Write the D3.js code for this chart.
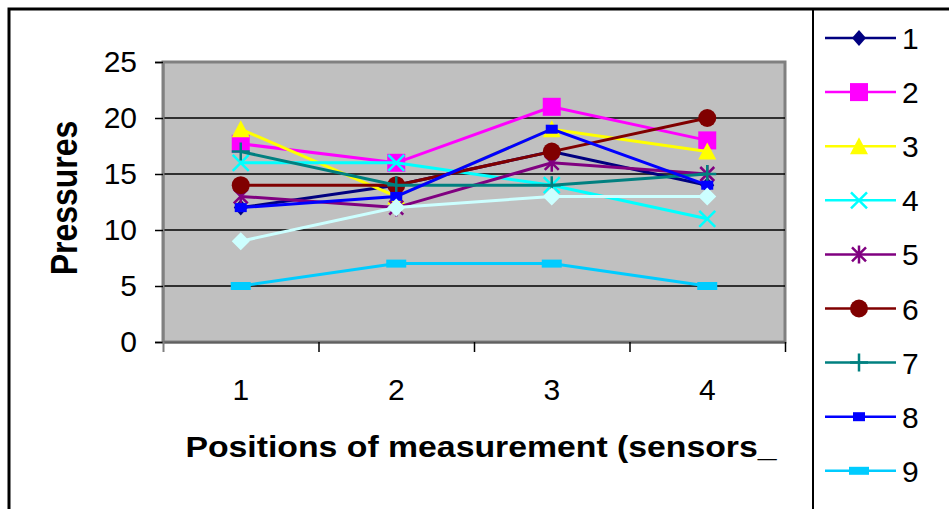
<!DOCTYPE html>
<html>
<head>
<meta charset="utf-8">
<script src="https://d3js.org/d3.v7.min.js"></script>
<style>
  body { margin: 0; background: #fff; }
  svg { display: block; }
  text { font-family: "Liberation Sans", Arial, sans-serif; fill: #000; }
</style>
</head>
<body>
<svg id="chart" width="949" height="509"></svg>
<script>
// categories (sensor positions) and series values
const categories = ["1", "2", "3", "4"];
const seriesNames = ["1", "2", "3", "4", "5", "6", "7", "8", "9", "10"];
const s1 = [12, 14, 17, 14];
const s2 = [17.7, 16, 21, 18];
const s3 = [19, 13, 19, 17];
const s4 = [16, 16, 14, 11];
const s5 = [13, 12, 16, 15];
const s6 = [14, 14, 17, 20];
const s7 = [17, 14, 14, 15];
const s8 = [12, 13, 19, 14];
const s9 = [5, 7, 7, 5];
const s10 = [9, 12, 13, 13];
const yTicks = [0, 5, 10, 15, 20, 25];

const allValues = [s1, s2, s3, s4, s5, s6, s7, s8, s9, s10];
const colors = ["#000080", "#FF00FF", "#FFFF00", "#00FFFF", "#800080",
                "#800000", "#008080", "#0000FF", "#00CCFF", "#CCFFFF"];
const markers = ["diamond", "square", "triangle", "x", "asterisk",
                 "circle", "plus", "smallrect", "widerect", "bigdiamond"];

const svg = d3.select("#chart");

// plot area
const plotLeft = 163, plotRight = 785, plotTop = 62, plotBottom = 342;

const x = d3.scalePoint().domain(categories).range([plotLeft, plotRight]).padding(0.5);
const xEdge = d3.scaleLinear().domain([0, categories.length]).range([plotLeft, plotRight]);
const y = d3.scaleLinear().domain([0, 25]).range([plotBottom, plotTop]);

// outer frame + legend box
svg.append("rect")
  .attr("x", 9).attr("y", 9).attr("width", 1000).attr("height", 600)
  .attr("fill", "none").attr("stroke", "#000").attr("stroke-width", 3);
svg.append("line")
  .attr("x1", 813).attr("x2", 813).attr("y1", 9).attr("y2", 520)
  .attr("stroke", "#000").attr("stroke-width", 2);

svg.append("rect")
  .attr("x", plotLeft).attr("y", plotTop)
  .attr("width", plotRight - plotLeft).attr("height", plotBottom - plotTop)
  .attr("fill", "#C0C0C0").attr("stroke", "#808080").attr("stroke-width", 3);

// gridlines
svg.append("g")
  .selectAll("line")
  .data(yTicks.filter(d => d > 0 && d < 25))
  .join("line")
  .attr("x1", plotLeft).attr("x2", plotRight)
  .attr("y1", d => y(d)).attr("y2", d => y(d))
  .attr("stroke", "#000").attr("stroke-width", 1.5);

// y axis
const yAxis = svg.append("g")
  .attr("transform", `translate(${plotLeft},0)`)
  .call(d3.axisLeft(y).tickValues(yTicks).tickSize(8).tickPadding(18));
yAxis.select(".domain").attr("stroke", "#808080").attr("stroke-width", 2);
yAxis.selectAll(".tick line").attr("stroke", "#000").attr("stroke-width", 1.5);
yAxis.selectAll(".tick text").attr("font-size", 30).attr("font-family", null);

// x axis: ticks on category boundaries
const xAxis = svg.append("g")
  .attr("transform", `translate(0,${plotBottom})`)
  .call(d3.axisBottom(xEdge).tickValues(d3.range(categories.length + 1))
    .tickSize(10).tickSizeOuter(0).tickFormat(""));
xAxis.select(".domain").attr("stroke", "#606060").attr("stroke-width", 2);
xAxis.selectAll(".tick line").attr("stroke", "#000").attr("stroke-width", 1.5);
xAxis.select(".tick line").attr("stroke", "#808080").attr("stroke-width", 2);

svg.append("g")
  .selectAll("text")
  .data(categories)
  .join("text")
  .attr("x", d => x(d)).attr("y", 400)
  .attr("text-anchor", "middle").attr("font-size", 30)
  .text(d => d);

// axis titles
svg.append("text")
  .attr("transform", "translate(481,457) scale(1.165,1)")
  .attr("text-anchor", "middle").attr("font-size", 29).attr("font-weight", "bold")
  .text("Positions of measurement (sensors_");

svg.append("text")
  .attr("transform", "translate(77,198) scale(1.17,1) rotate(-90)")
  .attr("text-anchor", "middle").attr("font-size", 32).attr("font-weight", "bold")
  .text("Pressures");

// marker shapes
function drawMarker(g, type, color) {
  const st = (sel) => sel.attr("stroke", color).attr("stroke-width", 2.5).attr("fill", "none");
  if (type === "diamond") {
    g.append("path").attr("d", "M0,-8L7,0L0,8L-7,0Z").attr("fill", color);
  } else if (type === "bigdiamond") {
    g.append("path").attr("d", "M0,-9L9,0L0,9L-9,0Z").attr("fill", color);
  } else if (type === "square") {
    g.append("rect").attr("x", -9).attr("y", -9).attr("width", 18).attr("height", 18).attr("fill", color);
  } else if (type === "triangle") {
    g.append("path").attr("d", "M0,-9L9,8L-9,8Z").attr("fill", color);
  } else if (type === "x") {
    st(g.append("path").attr("d", "M-8,-8L8,8M8,-8L-8,8"));
  } else if (type === "asterisk") {
    st(g.append("path").attr("d", "M-7,-7L7,7M7,-7L-7,7M0,-9L0,9"));
  } else if (type === "circle") {
    g.append("circle").attr("r", 9).attr("fill", color);
  } else if (type === "plus") {
    st(g.append("path").attr("d", "M0,-9L0,9M-9,0L9,0"));
  } else if (type === "smallrect") {
    g.append("rect").attr("x", -6).attr("y", -4.5).attr("width", 12).attr("height", 9).attr("fill", color);
  } else if (type === "widerect") {
    g.append("rect").attr("x", -10).attr("y", -4).attr("width", 20).attr("height", 8).attr("fill", color);
  }
}

const line = d3.line().x((d, i) => x(categories[i])).y(d => y(d));

allValues.forEach((vals, k) => {
  const g = svg.append("g");
  g.append("path")
    .datum(vals)
    .attr("d", line)
    .attr("fill", "none").attr("stroke", colors[k]).attr("stroke-width", 3);
  vals.forEach((v, i) => {
    const m = g.append("g").attr("transform", `translate(${x(categories[i])},${y(v)})`);
    drawMarker(m, markers[k], colors[k]);
  });
});

// legend
const legY = d3.scaleLinear().domain([0, 1]).range([38, 92.1]);
seriesNames.forEach((name, k) => {
  const g = svg.append("g").attr("transform", `translate(0,${legY(k)})`);
  g.append("line").attr("x1", 825).attr("x2", 896)
    .attr("stroke", colors[k]).attr("stroke-width", 2.5);
  const m = g.append("g").attr("transform", "translate(859,0)");
  drawMarker(m, markers[k], colors[k]);
  g.append("text").attr("x", 902).attr("y", 11).attr("font-size", 30).text(name);
});
</script>
</body>
</html>
